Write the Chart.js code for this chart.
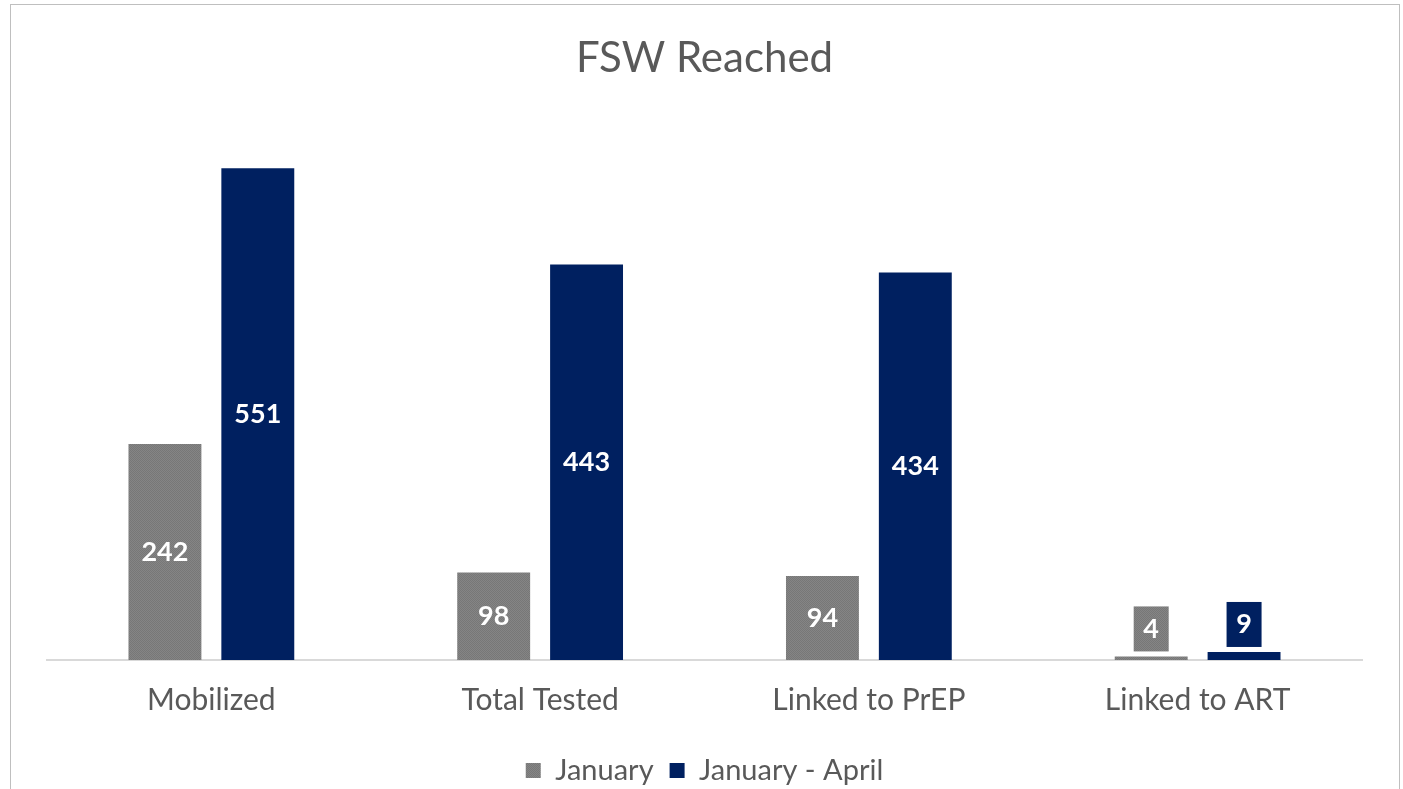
<!DOCTYPE html>
<html>
<head>
<meta charset="utf-8">
<script src="https://cdn.jsdelivr.net/npm/chart.js@4"></script>
<style>
  html, body { margin: 0; padding: 0; background: #fff; overflow: hidden; }
  #frame { position: absolute; left: 10px; top: 4px; width: 1388px; height: 800px; border: 1px solid #bfbfbf; }
  #wrap { position: absolute; left: 0; top: 0; width: 1403px; height: 795px; }
</style>
</head>
<body>
<div id="frame"></div>
<div id="wrap"><canvas id="fswChart" width="1403" height="795"></canvas></div>
<script>
const categories = ['Mobilized', 'Total Tested', 'Linked to PrEP', 'Linked to ART'];
const seriesNames = ['January', 'January - April'];
const january = [242, 98, 94, 4];
const januaryApril = [551, 443, 434, 9];

const FONT = 'Lato, "Gill Sans", "Open Sans", sans-serif';
const TEXT = '#595959';
const NAVY = '#002060';

// dotted grey fill like the original
function greyPattern() {
    const c = document.createElement('canvas');
    c.width = 2; c.height = 2;
    const g = c.getContext('2d');
    g.fillStyle = '#858585'; g.fillRect(0, 0, 2, 2);
    g.fillStyle = '#777777'; g.fillRect(0, 0, 1, 1); g.fillRect(1, 1, 1, 1);
    return g.createPattern(c, 'repeat');
}
const GREY = greyPattern();

// value labels: centred inside tall bars, boxed above short ones
const barLabels = {
    id: 'barLabels',
    afterDatasetsDraw(chart) {
        const ctx = chart.ctx;
        ctx.save();
        ctx.font = 'bold 27px ' + FONT;
        ctx.textAlign = 'center';
        ctx.textBaseline = 'middle';
        chart.data.datasets.forEach((ds, i) => {
            chart.getDatasetMeta(i).data.forEach((bar, j) => {
                const v = ds.data[j];
                const h = bar.base - bar.y;
                if (h > 60) {
                    ctx.fillStyle = '#fff';
                    ctx.fillText(v, bar.x, (bar.y + bar.base) / 2);
                } else {
                    const bw = 35, bh = 45;
                    const bottom = bar.y - 5;
                    ctx.fillStyle = ds.backgroundColor;
                    ctx.fillRect(bar.x - bw / 2, bottom - bh, bw, bh);
                    ctx.fillStyle = '#fff';
                    ctx.fillText(v, bar.x, bottom - bh / 2);
                }
            });
        });
        ctx.restore();
    }
};

new Chart(document.getElementById('fswChart').getContext('2d'), {
    type: 'bar',
    data: {
        labels: categories,
        datasets: [
            { label: seriesNames[0], data: january, backgroundColor: GREY, categoryPercentage: 0.565, barPercentage: 0.785 },
            { label: seriesNames[1], data: januaryApril, backgroundColor: NAVY, categoryPercentage: 0.565, barPercentage: 0.785 }
        ]
    },
    options: {
        responsive: false,
        animation: false,
        layout: { padding: { left: 47, right: 41, top: 0, bottom: 0 } },
        scales: {
            x: {
                grid: { display: false, drawTicks: false },
                border: { display: true, color: '#d9d9d9', width: 2 },
                ticks: { color: TEXT, font: { family: FONT, size: 30 }, padding: 22 }
            },
            y: { display: false, min: 0, max: 600 }
        },
        plugins: {
            title: {
                display: true,
                text: 'FSW Reached',
                color: TEXT,
                font: { family: FONT, size: 42, weight: 'normal' },
                padding: { top: 33, bottom: 41 }
            },
            legend: {
                position: 'bottom',
                labels: { color: TEXT, font: { family: FONT, size: 29 }, boxWidth: 15, boxHeight: 15, padding: 16 }
            },
            tooltip: { enabled: false }
        }
    },
    plugins: [barLabels]
});
</script>
</body>
</html>
